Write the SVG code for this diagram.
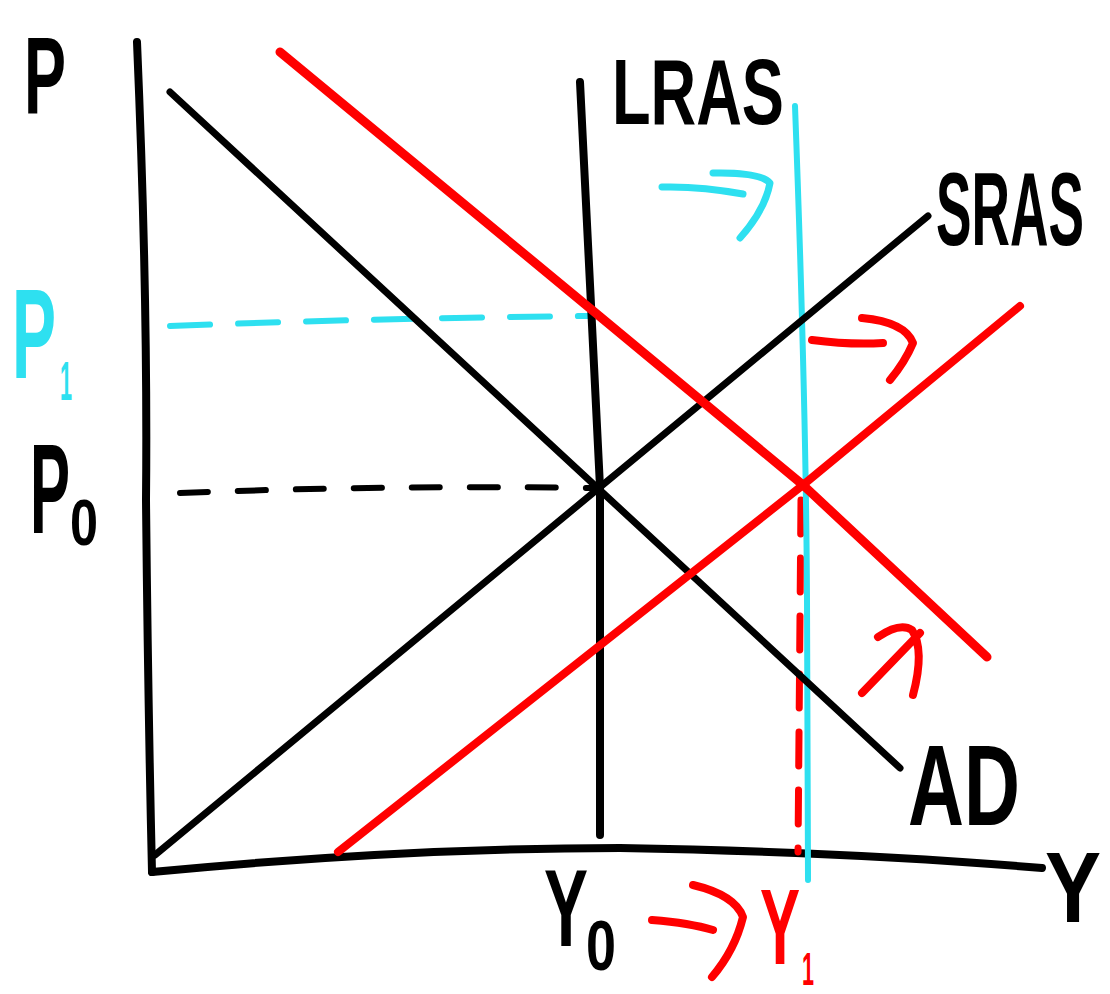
<svg xmlns="http://www.w3.org/2000/svg" width="1110" height="994" viewBox="0 0 1110 994">
<style>
.k{stroke:#000;fill:none;stroke-linecap:round;stroke-linejoin:round}
.r{stroke:#ff0000;fill:none;stroke-linecap:round;stroke-linejoin:round}
.c{stroke:#2ee0f0;fill:none;stroke-linecap:round;stroke-linejoin:round}
.t{font-family:"Liberation Sans",Arial,sans-serif;font-weight:bold}
</style>
<rect width="1110" height="994" fill="#fff"/>
<g id="axes">
<path class="k" stroke-width="8" d="M137,42 Q148,300 146,500 Q148,700 152,872"/>
<path class="k" stroke-width="8" d="M152,872 Q400,848 620,848 Q850,852 1042,868"/>
</g>
<g id="guides">
<path class="c" stroke-width="6" stroke-dasharray="40,28" d="M170,326 Q380,318 588,316"/>
<path class="k" stroke-width="6" stroke-dasharray="28,30" d="M180,493 Q380,485 592,488"/>
<path class="r" stroke-width="7" stroke-dasharray="34,24" d="M801,500 L798,852"/>
</g>
<g id="curves">
<path class="k" stroke-width="8" d="M580,82 Q594,360 600,487 L600,835"/>
<path class="c" stroke-width="6" d="M795,106 Q806,400 807,600 L808,880"/>
<path class="k" stroke-width="7" d="M170,92 L900,768"/>
<path class="k" stroke-width="7" d="M155,855 L928,216"/>
<path class="r" stroke-width="9" d="M280,52 L592,310 L803,485 L987,657"/>
<path class="r" stroke-width="8" d="M338,852 L803,485 L1020,306"/>
</g>
<g id="arrows">
<path class="c" stroke-width="7" d="M662,187 Q700,186 743,194 M713,173 Q760,172 770,183 Q765,210 740,238"/>
<path class="r" stroke-width="8" d="M812,340 Q850,345 883,343 M862,318 Q905,322 913,343 Q905,362 890,380"/>
<path class="r" stroke-width="8" d="M862,693 L920,633 M878,637 Q900,622 912,630 Q925,650 913,695"/>
<path class="r" stroke-width="8" d="M652,920 Q690,923 713,930 M693,885 Q735,895 743,917 Q735,950 712,977"/>
</g>
<g id="labels">
<text class="t" x="24" y="114" font-size="110" textLength="42" lengthAdjust="spacingAndGlyphs">P</text>
<text class="t" x="12" y="378" font-size="128" textLength="44" lengthAdjust="spacingAndGlyphs" fill="#2ee0f0">P</text>
<text class="t" x="60" y="400" font-size="55" textLength="12" lengthAdjust="spacingAndGlyphs" fill="#2ee0f0">1</text>
<text class="t" x="30" y="533" font-size="128" textLength="40" lengthAdjust="spacingAndGlyphs">P</text>
<text class="t" x="70" y="545" font-size="65" textLength="28" lengthAdjust="spacingAndGlyphs">0</text>
<text class="t" x="612" y="124" font-size="92" textLength="172" lengthAdjust="spacingAndGlyphs">LRAS</text>
<text class="t" x="936" y="245" font-size="104" textLength="148" lengthAdjust="spacingAndGlyphs">SRAS</text>
<text class="t" x="908" y="825" font-size="115" textLength="112" lengthAdjust="spacingAndGlyphs">AD</text>
<text class="t" x="1045" y="922" font-size="100" textLength="56" lengthAdjust="spacingAndGlyphs">Y</text>
<text class="t" x="544" y="946" font-size="110" textLength="44" lengthAdjust="spacingAndGlyphs">Y</text>
<text class="t" x="586" y="970" font-size="70" textLength="30" lengthAdjust="spacingAndGlyphs">0</text>
<text class="t" x="760" y="964" font-size="108" textLength="40" lengthAdjust="spacingAndGlyphs" fill="#ff0000">Y</text>
<text class="t" x="802" y="985" font-size="46" textLength="12" lengthAdjust="spacingAndGlyphs" fill="#ff0000">1</text>
</g>
</svg>
